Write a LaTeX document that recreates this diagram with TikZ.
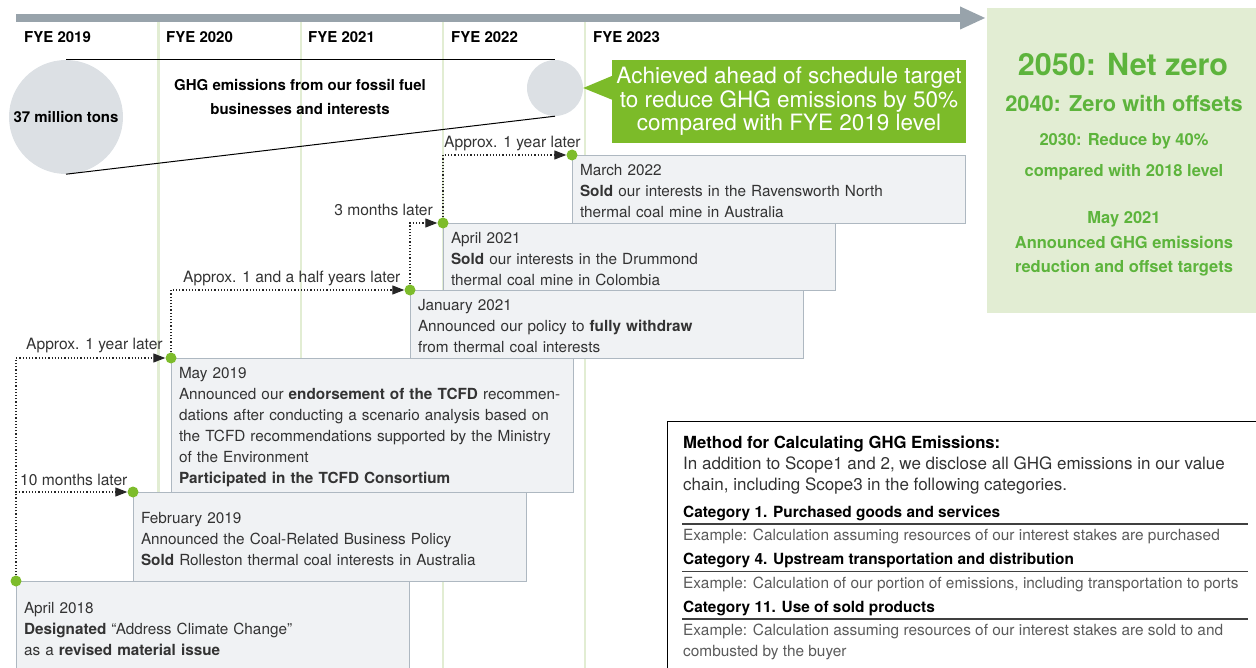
\documentclass[tikz,border=0pt]{standalone}
\usepackage{fontspec}
\setmainfont{TeX Gyre Heros}
\usetikzlibrary{arrows.meta,calc}

\definecolor{barGray}{HTML}{98A3AB}
\definecolor{gridGreen}{HTML}{E2EDD3}
\definecolor{discGray}{HTML}{DCE0E4}
\definecolor{boxFill}{HTML}{F0F2F4}
\definecolor{boxEdge}{HTML}{AEB8C1}
\definecolor{dotGreen}{HTML}{7DBC2B}
\definecolor{calloutGreen}{HTML}{7CBB29}
\definecolor{panelGreen}{HTML}{E2EDD3}
\definecolor{panelText}{HTML}{5DB43C}
\definecolor{bodyText}{HTML}{333333}
\definecolor{noteText}{HTML}{5A5A5A}

\newcommand{\fsz}[2]{\fontsize{#1}{#2}\selectfont}
% first-line strut that drops the box text slightly below centre
\newcommand{\topstrut}{\rule{0pt}{16pt}}

\begin{document}
\begin{tikzpicture}[x=1pt,y=-1pt,
  yearlabel/.style={anchor=base west, inner sep=0pt, font=\fsz{15}{18}\bfseries},
  gridline/.style={draw=gridGreen, line width=2.5pt},
  disc/.style={circle, fill=discGray, inner sep=0pt},
  eventbox/.style={draw=boxEdge, fill=boxFill, line width=0.9pt, anchor=north west,
    outer sep=0pt, inner xsep=8pt, inner ysep=0pt, align=left,
    font=\fsz{15.3}{21}, text=bodyText},
  milestone/.style={circle, fill=dotGreen, minimum size=11pt, inner sep=0pt},
  lag/.style={draw=black!85, line width=1.2pt, dash pattern=on 1.2pt off 2pt,
    -{Triangle[length=12pt,width=9pt]}},
  laglabel/.style={inner sep=0pt, font=\fsz{15.6}{18}, text=bodyText},
  targettext/.style={anchor=base, inner sep=0pt, text=panelText},
  notetext/.style={anchor=base west, inner sep=0pt, font=\fsz{17}{21}, text=bodyText},
  notetitle/.style={anchor=base west, inner sep=0pt, font=\fsz{16.7}{20}\bfseries, text=black},
  notehead/.style={anchor=base west, inner sep=0pt, font=\fsz{15.4}{18}\bfseries, text=black},
  noteexample/.style={anchor=base west, inner sep=0pt, font=\fsz{15.4}{18}, text=noteText},
  noterule/.style={draw=black!75, line width=1.1pt}]

\useasboundingbox (0,0) rectangle (1256,668);
\clip (0,0) rectangle (1256,668);

% fiscal-year grid lines
\foreach \gx in {158.5,301,443,585}
  \draw[gridline] (\gx,22) -- (\gx,668);

% time axis
\coordinate (axis start) at (16,18);
\coordinate (axis end) at (986,18);
\draw[barGray, line width=8pt, -{Triangle[length=26pt,width=21pt]}] (axis start) -- (axis end);

% fiscal-year labels
\node[yearlabel] (fy19) at (24,43) {FYE 2019};
\node[yearlabel] (fy20) at (166,43) {FYE 2020};
\node[yearlabel] (fy21) at (308,43) {FYE 2021};
\node[yearlabel] (fy22) at (451,43) {FYE 2022};
\node[yearlabel] (fy23) at (593,43) {FYE 2023};

% emissions comparison
\node[disc, minimum size=114pt, font=\fsz{15}{18}\bfseries] (big) at (66,117) {37 million tons};
\node[disc, minimum size=56pt] (small) at (555,88) {};
\draw[black, line width=1pt] (big.north) -- (small.north);
\draw[black, line width=1pt] (big.south) -- (small.south);
\node[align=center, font=\fsz{15}{24}\bfseries, inner sep=0pt] (ghg) at (300,97)
  {GHG emissions from our fossil fuel\\businesses and interests};

% achievement callout
\node[fill=calloutGreen, text=white, minimum width=354pt, minimum height=83pt,
  inner sep=0pt, align=center, font=\fsz{22.5}{23.5}] (goal) at (789,101.5)
  {Achieved ahead of schedule target\\to reduce GHG emissions by 50\%\\compared with FYE 2019 level};
\fill[calloutGreen] ($(goal.north west)+(0.5,16)$) -- (small.east) -- ($(goal.north west)+(0.5,40)$) -- cycle;

% long-term targets panel
\node[fill=panelGreen, anchor=north west, minimum width=270pt, minimum height=305pt,
  inner sep=0pt] (panel) at (987,8) {};
\node[targettext, font=\fsz{30.5}{32}\bfseries] (t2050) at (1123,75.5) {2050: Net zero};
\node[targettext, font=\fsz{21.8}{24}\bfseries] (t2040) at (1124,111.5) {2040: Zero with offsets};
\node[targettext, font=\fsz{16.5}{20}\bfseries] (t2030) at (1124,146) {2030: Reduce by 40\%};
\node[targettext, font=\fsz{16.5}{20}\bfseries] (t2030b) at (1124,177) {compared with 2018 level};
\node[targettext, font=\fsz{16.5}{20}\bfseries] (tmay) at (1124,224) {May 2021};
\node[targettext, font=\fsz{16.5}{20}\bfseries] (tann) at (1124,248.5) {Announced GHG emissions};
\node[targettext, font=\fsz{16.5}{20}\bfseries] (tred) at (1124,272.5) {reduction and offset targets};

% event boxes
\node[eventbox, minimum width=393pt, minimum height=68pt, text width=377pt] (ev22mar) at (572,155)
  {\topstrut March 2022\\\textbf{Sold} our interests in the Ravensworth North\\thermal coal mine in Australia};
\node[eventbox, minimum width=392pt, minimum height=67pt, text width=376pt] (ev21apr) at (443,223)
  {\topstrut April 2021\\\textbf{Sold} our interests in the Drummond\\thermal coal mine in Colombia};
\node[eventbox, minimum width=393pt, minimum height=68pt, text width=377pt] (ev21jan) at (410,290)
  {\topstrut January 2021\\Announced our policy to \textbf{fully withdraw}\\from thermal coal interests};
\node[eventbox, minimum width=402pt, minimum height=134pt, text width=386pt] (ev19may) at (171,358)
  {\topstrut May 2019\\Announced our \textbf{endorsement of the TCFD} recommen-\\dations after conducting a scenario analysis based on\\the TCFD recommendations supported by the Ministry\\of the Environment\\\textbf{Participated in the TCFD Consortium}};
\node[eventbox, minimum width=393pt, minimum height=89pt, text width=377pt] (ev19feb) at (133,492)
  {\topstrut February 2019\\Announced the Coal-Related Business Policy\\\textbf{Sold} Rolleston thermal coal interests in Australia};
\node[eventbox, minimum width=393pt, minimum height=92pt, text width=377pt] (ev18apr) at (16,581)
  {\topstrut April 2018\\\textbf{Designated} “Address Climate Change”\\as a \textbf{revised material issue}};

% milestone dots
\node[milestone] (d22mar) at (ev22mar.north west) {};
\node[milestone] (d21apr) at (ev21apr.north west) {};
\node[milestone] (d21jan) at (ev21jan.north west) {};
\node[milestone] (d19may) at (ev19may.north west) {};
\node[milestone] (d19feb) at (ev19feb.north west) {};
\node[milestone] (d18apr) at (ev18apr.north west) {};

% elapsed-time connectors
\draw[lag] (d18apr) |- (d19feb);
\draw[lag] (d18apr) |- (d19may);
\draw[lag] (d19may) |- (d21jan);
\draw[lag] (d21jan) |- (d21apr);
\draw[lag] (d21apr) |- (d22mar);

\node[laglabel, anchor=base west] (lag1) at (20,485) {10 months later};
\node[laglabel, anchor=base west] (lag2) at (26,350) {Approx. 1 year later};
\node[laglabel, anchor=base west] (lag3) at (183,283) {Approx. 1 and a half years later};
\node[laglabel, anchor=base east] (lag4) at (433,216) {3 months later};
\node[laglabel, anchor=base west] (lag5) at (444,148) {Approx. 1 year later};

% calculation method note
\node[draw=black, line width=1pt, anchor=north west, minimum width=620pt,
  minimum height=280pt, inner sep=0pt] (method) at (666.5,420.5) {};
\node[notetitle] (mtitle) at (683,448.3) {Method for Calculating GHG Emissions:};
\node[notetext] (mline1) at (683,469.3) {In addition to Scope1 and 2, we disclose all GHG emissions in our value};
\node[notetext] (mline2) at (683,490.3) {chain, including Scope3 in the following categories.};
\node[notehead] (cat1) at (683,517.3) {Category 1. Purchased goods and services};
\draw[noterule] (682,524) -- (1248,524);
\node[noteexample] (ex1) at (683,540.5) {Example: Calculation assuming resources of our interest stakes are purchased};
\node[notehead] (cat4) at (683,564.8) {Category 4. Upstream transportation and distribution};
\draw[noterule] (682,571.5) -- (1248,571.5);
\node[noteexample] (ex4) at (683,588) {Example: Calculation of our portion of emissions, including transportation to ports};
\node[notehead] (cat11) at (683,612.3) {Category 11. Use of sold products};
\draw[noterule] (682,619) -- (1248,619);
\node[noteexample] (ex11) at (683,635.5) {Example: Calculation assuming resources of our interest stakes are sold to and};
\node[noteexample] (ex11b) at (683,656.5) {combusted by the buyer};

\end{tikzpicture}
\end{document}
